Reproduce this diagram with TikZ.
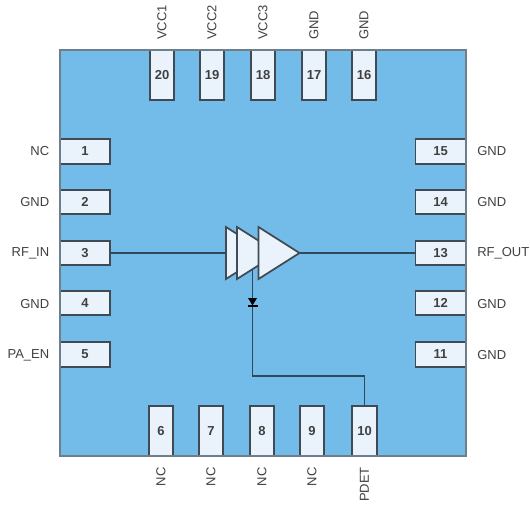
\documentclass[tikz,border=0pt]{standalone}
\usepackage{fontspec}
\setmainfont{Liberation Sans}
\usepackage{tikz}
\definecolor{chip}{HTML}{73BBE8}
\definecolor{pin}{HTML}{EAF3FC}
\definecolor{chipline}{HTML}{6E7F8C}
\definecolor{wire}{HTML}{2C4A5C}
\definecolor{pinline}{HTML}{3F4A52}
\definecolor{labeltext}{HTML}{404040}
\tikzset{%
    body/.style={fill=chip, minimum size=304.5pt, inner sep=0pt, outer sep=0pt},
    pinh/.style={draw=pinline, fill=pin, line width=1.2pt, minimum width=37.5pt, minimum height=18.4pt, inner sep=0pt, outer sep=0pt, text=labeltext, font=\fontsize{9.75}{11}\selectfont\bfseries},
    pinv/.style={draw=pinline, fill=pin, line width=1.2pt, minimum width=18.4pt, minimum height=37.5pt, inner sep=0pt, outer sep=0pt, text=labeltext, font=\fontsize{9.75}{11}\selectfont\bfseries},
    pinname/.style={inner sep=0pt, text=labeltext, font=\fontsize{9.75}{11}\selectfont},
    wireline/.style={draw=wire, line width=1.4pt},
    amp/.style={draw=pinline, fill=pin, line width=1.3pt, line join=miter}
}
\begin{document}
\begin{tikzpicture}[x=0.75pt,y=-0.75pt]
    \useasboundingbox (0,0) rectangle (530,504);

    % package
    \node[body] (chipbody) at (263,253) {};

    % top row
    \node[pinv] (p20) at (162,75) {20};
    \node[pinv] (p19) at (212,75) {19};
    \node[pinv] (p18) at (263,75) {18};
    \node[pinv] (p17) at (314,75) {17};
    \node[pinv] (p16) at (364,75) {16};
    \node[pinname,rotate=90,anchor=west] (l20) at (162,40) {VCC1};
    \node[pinname,rotate=90,anchor=west] (l19) at (212,40) {VCC2};
    \node[pinname,rotate=90,anchor=west] (l18) at (263,40) {VCC3};
    \node[pinname,rotate=90,anchor=west] (l17) at (314,40) {GND};
    \node[pinname,rotate=90,anchor=west] (l16) at (364,40) {GND};

    % left row
    \node[pinh] (p1) at (85,151.5) {1};
    \node[pinh] (p2) at (85,202) {2};
    \node[pinh] (p3) at (85,253) {3};
    \node[pinh] (p4) at (85,303) {4};
    \node[pinh] (p5) at (85,354.5) {5};
    \node[pinname,anchor=east] (l1) at (49.5,151) {NC};
    \node[pinname,anchor=east] (l2) at (49.5,202) {GND};
    \node[pinname,anchor=east] (l3) at (49.5,253) {RF\_IN};
    \node[pinname,anchor=east] (l4) at (49.5,304) {GND};
    \node[pinname,anchor=east] (l5) at (49.5,355) {PA\_EN};

    % right row
    \node[pinh] (p15) at (440.5,151.5) {15};
    \node[pinh] (p14) at (440.5,202) {14};
    \node[pinh] (p13) at (440.5,253) {13};
    \node[pinh] (p12) at (440.5,303) {12};
    \node[pinh] (p11) at (440.5,354.5) {11};
    \node[pinname,anchor=west] (l15) at (477,151) {GND};
    \node[pinname,anchor=west] (l14) at (477,202) {GND};
    \node[pinname,anchor=west] (l13) at (477,253) {RF\_OUT};
    \node[pinname,anchor=west] (l12) at (477,304) {GND};
    \node[pinname,anchor=west] (l11) at (477,355) {GND};

    % bottom row
    \node[pinv] (p6) at (161,431) {6};
    \node[pinv] (p7) at (211,431) {7};
    \node[pinv] (p8) at (262,431) {8};
    \node[pinv] (p9) at (312,431) {9};
    \node[pinv] (p10) at (364.5,431) {10};
    \node[pinname,rotate=90,anchor=east] (l6) at (161,467) {NC};
    \node[pinname,rotate=90,anchor=east] (l7) at (211,467) {NC};
    \node[pinname,rotate=90,anchor=east] (l8) at (262,467) {NC};
    \node[pinname,rotate=90,anchor=east] (l9) at (312,467) {NC};
    \node[pinname,rotate=90,anchor=east] (l10) at (364.5,467) {PDET};

    % package outline on top of the pins
    \draw[draw=chipline,line width=1.2pt] (chipbody.north west) rectangle (chipbody.south east);

    % wires
    \coordinate (ampin) at (226,253);
    \coordinate (ampout) at (299.5,253);
    \coordinate (tap) at (252.5,270);
    \coordinate (bend) at (252.5,376);
    \draw[wireline] (p3.east) -- (ampin);
    \draw[wireline] (ampout) -- (p13.west);
    \draw[wireline] (tap) -- (bend) -| (p10.north);

    % amplifier
    \draw[amp] (226,227) -- (267,253) -- (226,279) -- cycle;
    \draw[amp] (237,227) -- (278,253) -- (237,279) -- cycle;
    \draw[amp] (258.5,227) -- (ampout) -- (258.5,279) -- cycle;

    % diode
    \fill[black] (248,298) -- (257,298) -- (252.5,305.5) -- cycle;
    \draw[black,line width=0.8pt] (247.5,306) -- (257.5,306);
\end{tikzpicture}
\end{document}
